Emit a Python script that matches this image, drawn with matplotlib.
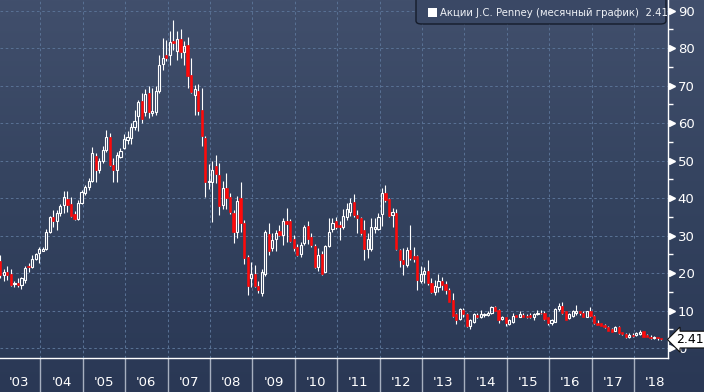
import numpy as np
import matplotlib
matplotlib.use("Agg")
import matplotlib.pyplot as plt
from matplotlib.patches import Rectangle, FancyBboxPatch
from matplotlib.colors import LinearSegmentedColormap

# monthly candles, Jan 2003 .. Aug 2018 (one line per year)
opens = [
    23.3, 19.6, 20.2, 19.8, 17.1, 17.5, 16.9, 18.2, 21.9, 21.6, 23.7, 25.5,
    26.0, 26.4, 31.0, 34.9, 34.0, 36.0, 38.1, 39.8, 38.5, 35.8, 34.4, 38.8,
    41.5, 42.9, 44.7, 51.3, 47.4, 50.0, 52.9, 56.4, 48.9, 47.5, 51.1, 53.5,
    55.6, 56.0, 58.9, 61.8, 65.8, 62.9, 68.0, 62.7, 63.1, 68.5, 75.7, 78.2,
    78.2, 82.0, 79.3, 82.5, 78.9, 80.9, 72.9, 67.6, 68.6, 63.6, 56.0, 44.3,
    44.3, 48.5, 46.2, 38.1, 42.7, 40.4, 36.0, 31.1, 40.0, 33.5, 24.2, 18.6,
    19.8, 16.6, 14.8, 19.8, 30.5, 26.6, 29.0, 31.3, 30.2, 33.8, 33.8, 29.0,
    26.9, 25.1, 28.0, 32.6, 29.6, 27.3, 21.6, 25.1, 20.4, 27.3, 31.7, 34.0,
    32.9, 32.3, 35.1, 36.2, 39.1, 35.5, 34.6, 31.4, 26.4, 26.4, 31.7, 31.7,
    35.8, 41.5, 39.7, 35.5, 36.0, 26.2, 23.5, 22.2, 26.2, 24.6, 24.6, 17.8,
    19.8, 20.7, 17.5, 15.1, 16.3, 17.8, 17.1, 15.5, 12.9, 9.1, 7.7, 10.2,
    9.1, 5.9, 7.1, 8.9, 8.4, 8.8, 8.9, 9.5, 11.1, 10.2, 7.7, 8.3,
    6.5, 7.1, 8.8, 8.4, 8.9, 8.6, 8.8, 8.3, 9.0, 9.5, 9.5, 8.3,
    6.7, 7.1, 10.4, 11.3, 9.8, 8.0, 8.6, 9.5, 9.8, 9.5, 8.4, 9.8,
    8.6, 6.8, 6.7, 6.2, 5.6, 5.1, 4.7, 5.6, 4.2, 3.8, 3.1, 3.6,
    3.5, 3.8, 4.5, 3.5, 3.1, 2.6, 2.9, 2.6,
]
highs = [
    24.9, 21.0, 21.8, 21.0, 18.0, 18.6, 19.1, 21.8, 22.8, 24.9, 25.5, 26.9,
    27.1, 31.7, 35.3, 36.9, 36.9, 38.5, 41.8, 41.8, 40.4, 36.7, 39.5, 42.2,
    43.5, 45.3, 53.6, 52.0, 50.6, 53.8, 58.2, 57.3, 50.6, 52.4, 53.3, 57.0,
    58.0, 60.0, 63.6, 66.2, 68.0, 69.2, 69.8, 69.5, 69.8, 78.1, 82.7, 82.2,
    84.5, 87.6, 84.5, 85.2, 81.8, 82.9, 77.5, 70.2, 70.4, 69.5, 56.5, 49.1,
    50.0, 51.6, 49.3, 44.6, 46.7, 41.3, 36.9, 40.5, 44.4, 34.2, 24.9, 23.1,
    22.2, 17.8, 21.0, 31.5, 33.3, 30.6, 31.4, 32.9, 34.6, 37.3, 34.4, 30.2,
    27.8, 28.2, 32.9, 34.0, 30.6, 27.8, 26.6, 25.8, 27.5, 34.6, 34.6, 34.9,
    34.0, 37.0, 38.6, 40.0, 41.1, 36.9, 35.1, 34.2, 30.6, 34.6, 34.6, 36.1,
    42.6, 43.5, 40.0, 37.3, 37.0, 26.4, 26.6, 26.9, 32.9, 27.1, 24.9, 21.9,
    21.6, 23.4, 18.6, 18.2, 19.8, 19.1, 18.0, 16.0, 14.7, 9.5, 10.7, 10.7,
    9.5, 7.7, 9.5, 9.5, 10.2, 9.5, 9.8, 11.3, 11.3, 10.4, 8.6, 8.4,
    7.7, 9.3, 8.9, 9.8, 9.3, 9.1, 9.5, 9.5, 10.2, 10.2, 10.0, 8.4,
    7.7, 10.7, 12.0, 12.2, 10.0, 9.5, 10.2, 11.5, 10.0, 9.8, 10.0, 11.1,
    8.9, 7.5, 6.8, 6.5, 5.8, 5.3, 5.8, 5.8, 4.4, 4.0, 4.0, 4.0,
    4.4, 4.9, 4.7, 3.8, 3.5, 3.3, 3.1, 2.8,
]
lows = [
    18.7, 17.8, 18.2, 16.6, 16.4, 16.4, 15.7, 17.5, 20.4, 21.3, 23.4, 22.7,
    25.8, 26.2, 30.6, 32.4, 31.5, 35.3, 36.0, 36.4, 34.9, 34.2, 34.2, 38.5,
    40.9, 42.2, 44.2, 44.2, 46.8, 49.5, 52.4, 48.6, 44.4, 44.4, 50.6, 53.0,
    54.4, 54.4, 58.2, 57.8, 60.0, 61.8, 61.5, 61.8, 62.2, 68.0, 74.2, 76.5,
    75.6, 79.6, 76.9, 77.5, 75.4, 69.5, 68.0, 62.1, 62.2, 53.8, 40.2, 42.5,
    33.6, 44.0, 35.4, 37.2, 37.2, 35.7, 28.0, 29.5, 31.0, 22.5, 14.2, 16.4,
    16.2, 14.6, 13.9, 19.3, 24.9, 26.0, 26.0, 29.8, 27.5, 28.4, 28.4, 25.8,
    24.6, 24.2, 27.5, 27.8, 26.9, 21.3, 20.7, 19.5, 20.4, 26.9, 31.1, 31.7,
    28.9, 31.7, 34.2, 35.3, 35.1, 30.6, 30.2, 23.5, 24.0, 26.0, 30.8, 31.5,
    32.6, 39.1, 35.1, 32.4, 26.2, 21.6, 19.5, 21.6, 23.5, 23.1, 15.5, 17.3,
    17.5, 16.9, 14.8, 14.2, 15.1, 15.5, 14.5, 12.2, 8.4, 6.5, 7.5, 8.4,
    5.6, 5.2, 6.8, 8.0, 8.0, 8.3, 8.6, 9.1, 9.8, 6.8, 7.4, 6.0,
    6.2, 6.8, 8.3, 8.3, 8.3, 8.0, 8.1, 7.5, 8.8, 9.1, 7.4, 6.2,
    6.3, 7.0, 10.0, 9.1, 7.4, 7.7, 8.4, 8.9, 8.9, 8.3, 8.3, 8.4,
    6.5, 6.1, 5.8, 5.4, 4.5, 4.2, 4.5, 3.8, 3.6, 2.7, 2.7, 3.1,
    3.3, 3.5, 2.9, 2.9, 2.4, 2.4, 2.2, 2.2,
]
closes = [
    19.4, 20.2, 19.6, 16.9, 17.5, 16.8, 18.6, 21.3, 21.6, 23.7, 25.1, 26.4,
    26.5, 31.0, 34.9, 33.8, 36.0, 37.9, 40.2, 38.2, 35.3, 34.4, 38.8, 41.7,
    42.9, 44.7, 52.0, 47.4, 49.8, 52.9, 56.4, 48.9, 47.4, 51.5, 52.7, 55.8,
    56.2, 58.9, 60.6, 65.6, 61.2, 67.7, 63.1, 63.3, 68.6, 75.6, 77.5, 77.5,
    81.6, 81.3, 82.5, 78.9, 80.7, 72.5, 68.3, 69.2, 63.3, 56.5, 44.3, 44.7,
    47.6, 46.4, 37.8, 42.7, 40.0, 36.3, 30.9, 39.3, 33.5, 24.0, 16.6, 19.8,
    16.6, 15.4, 20.4, 31.1, 26.0, 28.9, 30.6, 30.2, 34.0, 33.1, 28.7, 26.6,
    24.9, 27.5, 32.2, 29.0, 27.5, 21.6, 24.9, 19.8, 27.3, 31.1, 33.3, 32.3,
    32.3, 35.3, 37.0, 38.8, 35.5, 34.6, 30.6, 26.4, 29.0, 32.2, 32.2, 34.9,
    41.5, 39.5, 35.3, 36.4, 26.4, 23.4, 22.5, 26.2, 24.0, 23.7, 18.2, 19.8,
    20.7, 17.5, 15.1, 16.6, 17.8, 16.9, 15.5, 12.4, 8.6, 7.4, 10.4, 9.1,
    5.8, 7.5, 9.0, 8.3, 9.1, 9.1, 9.5, 11.1, 10.0, 7.5, 8.3, 6.7,
    7.5, 8.6, 8.4, 9.0, 8.4, 8.3, 8.3, 9.1, 9.5, 9.3, 7.7, 6.7,
    7.4, 10.4, 11.3, 9.3, 7.5, 9.1, 9.8, 9.8, 9.3, 8.4, 9.8, 8.6,
    6.7, 6.3, 5.9, 5.6, 4.7, 4.4, 5.6, 4.0, 3.8, 2.9, 3.6, 3.3,
    4.0, 4.4, 3.1, 3.1, 2.6, 2.9, 2.6, 2.41,
]
years = list(range(2003, 2019))
y_ticks = list(range(0, 100, 10))
last_price = closes[-1]
legend_text = "Акции J.C. Penney (месячный график)  2.41"

W, H = 704, 392
fig = plt.figure(figsize=(W / 100, H / 100), dpi=100)

# background gradient over the whole figure
bg = fig.add_axes([0, 0, 1, 1], zorder=-5)
cmap = LinearSegmentedColormap.from_list("bg", ["#2a3855", "#34435f", "#414f6c"])
bg.imshow(np.linspace(0, 1, 256).reshape(-1, 1), aspect="auto", cmap=cmap,
          origin="lower", extent=[0, 1, 0, 1])
bg.axis("off")

ax = fig.add_axes([0, 34 / H, 668 / W, 358 / H])
ax.set_facecolor("none")
ax.set_xlim(0.566, 189.6)
ax.set_ylim(-2.6, 92.86)

grid_kw = dict(color="#587093", lw=0.75, ls=(0, (2.5, 2.5)), zorder=0)
for v in y_ticks:
    ax.axhline(v, **grid_kw)
for k in range(1, len(years)):
    ax.axvline(12 * k, **grid_kw)

red = "#ff0a0a"
bw = 0.62
for i in range(len(opens)):
    o, h, l, c = opens[i], highs[i], lows[i], closes[i]
    x = i + 0.65
    top, bot = max(o, c), min(o, c)
    if top - bot < 0.25:
        mid = (top + bot) / 2
        top, bot = mid + 0.13, mid - 0.13
    ax.plot([x, x], [top, h], color="white", lw=0.8, zorder=2,
            solid_capstyle="butt")
    ax.plot([x, x], [l, bot], color="white", lw=0.8, zorder=2,
            solid_capstyle="butt")
    if c >= o:
        ax.add_patch(Rectangle((x - bw / 2, bot), bw, top - bot, fc="none",
                               ec="white", lw=0.8, zorder=3))
    else:
        ax.add_patch(Rectangle((x - bw / 2, bot), bw, top - bot, fc=red,
                               ec=red, lw=0.4, zorder=3))

# spines
for s in ["top", "left"]:
    ax.spines[s].set_visible(False)
for s in ["right", "bottom"]:
    ax.spines[s].set_color("white")
    ax.spines[s].set_linewidth(1.0)

# y axis on the right
ax.yaxis.tick_right()
ax.set_yticks(y_ticks)
ax.set_yticklabels([str(v) for v in y_ticks])
ax.set_yticks(list(range(5, 95, 10)), minor=True)
ax.tick_params(axis="y", which="major", length=0, pad=7, labelsize=9.5,
               labelcolor="white")
ax.tick_params(axis="y", which="minor", length=3.5, width=1, color="white",
               direction="out")
ax.plot([1.006] * len(y_ticks), y_ticks, ls="none", marker=">", ms=5,
        color="white", transform=ax.get_yaxis_transform(), clip_on=False)

# x axis: year separators and centred labels
ax.set_xticks([12 * k for k in range(1, len(years))])
ax.set_xticklabels([])
ax.set_xticks([12 * k + 6 for k in range(len(years))], minor=True)
ax.set_xticklabels(["'%02d" % (y % 100) for y in years], minor=True)
ax.tick_params(axis="x", which="major", length=25, width=1, color="#a7b0c0",
               direction="out")
ax.tick_params(axis="x", which="minor", length=0, pad=13, labelsize=9.5,
               labelcolor="white")

# last price tag
ax.annotate("%.2f" % last_price, xy=(1.0125, last_price - 0.1),
            xycoords=ax.get_yaxis_transform(), ha="left", va="center",
            fontsize=9, color="black", annotation_clip=False, zorder=20,
            bbox=dict(boxstyle="larrow,pad=0.15", fc="white", ec="#111111",
                      lw=0.8))

# legend box at the top
fig.patches.append(FancyBboxPatch((416 / W, 1 - 24 / H), 250 / W, 30 / H,
                                  boxstyle="round,pad=0,rounding_size=0.008",
                                  transform=fig.transFigure, fc="#3a4865",
                                  ec="#151c2b", lw=1.0, zorder=10))
fig.patches.append(Rectangle((428 / W, 1 - 17 / H), 9 / W, 9 / H,
                             transform=fig.transFigure, fc="white", ec="none",
                             zorder=11))
fig.text(440 / W, 1 - 12.5 / H, legend_text, color="#eef1f6", fontsize=7.3,
         va="center", ha="left", zorder=12)

fig.savefig("out.png", dpi=100)
